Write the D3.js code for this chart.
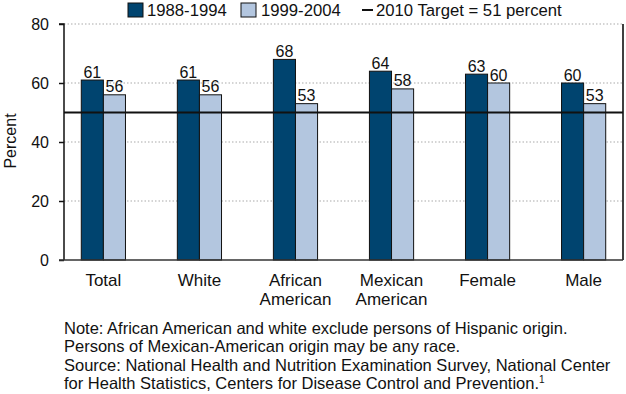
<!DOCTYPE html>
<html>
<head>
<meta charset="utf-8">
<script src="https://cdn.jsdelivr.net/npm/d3@7"></script>
<style>
  html, body { margin: 0; padding: 0; background: #fff; }
  svg { display: block; font-family: "Liberation Sans", Arial, sans-serif; }
</style>
</head>
<body>
<svg id="chart" width="626" height="394"></svg>
<script>
const categories = [["Total"], ["White"], ["African", "American"], ["Mexican", "American"], ["Female"], ["Male"]];
const series1988 = [61, 61, 68, 64, 63, 60];
const series1999 = [56, 56, 53, 58, 60, 53];
const seriesNames = ["1988-1994", "1999-2004"];
const targetValue = 50;
const targetLabel = "2010 Target = 51 percent";
const yTicks = [0, 20, 40, 60, 80];
const noteLines = [
  "Note: African American and white exclude persons of Hispanic origin.",
  "Persons of Mexican-American origin may be any race.",
  "Source: National Health and Nutrition Examination Survey, National Center",
  "for Health Statistics, Centers for Disease Control and Prevention."
];

(function () {
const colors = ["#00446F", "#B3C6DF"];
const svg = d3.select("#chart");
const pLeft = 64, pRight = 623, pTop = 24, pBottom = 260;

const keys = categories.map(c => c.join(" "));
const x = d3.scaleBand().domain(keys).range([pLeft, pRight]).paddingInner(0.54).paddingOuter(0.18);
const xs = d3.scaleBand().domain([0, 1]).range([0, x.bandwidth()]);
const y = d3.scaleLinear().domain([0, 80]).range([pBottom, pTop]);

// gridlines
svg.append("g").selectAll("line").data(yTicks.filter(t => t > 0)).join("line")
  .attr("x1", pLeft).attr("x2", pRight)
  .attr("y1", d => y(d)).attr("y2", d => y(d))
  .attr("stroke", "#aaa").attr("stroke-width", 1.2).attr("stroke-dasharray", "1.5,2");

// right border
svg.append("line").attr("x1", pRight).attr("x2", pRight).attr("y1", y(80)).attr("y2", y(0))
  .attr("stroke", "#000").attr("stroke-width", 1.5);

// bars
const data = [];
keys.forEach((k, i) => {
  data.push({k, s: 0, v: series1988[i]});
  data.push({k, s: 1, v: series1999[i]});
});
svg.append("g").selectAll("rect").data(data).join("rect")
  .attr("x", d => x(d.k) + xs(d.s))
  .attr("y", d => y(d.v))
  .attr("width", xs.bandwidth())
  .attr("height", d => y(0) - y(d.v))
  .attr("fill", d => colors[d.s])
  .attr("stroke", "#111").attr("stroke-width", 1);

// value labels
svg.append("g").selectAll("text").data(data).join("text")
  .attr("x", d => x(d.k) + xs(d.s) + xs.bandwidth() / 2)
  .attr("y", d => y(d.v) - 2.5)
  .attr("text-anchor", "middle")
  .attr("font-size", 16)
  .attr("fill", "#111")
  .text(d => d.v);

// target line
svg.append("line").attr("x1", pLeft).attr("x2", pRight)
  .attr("y1", y(targetValue)).attr("y2", y(targetValue))
  .attr("stroke", "#111").attr("stroke-width", 2);

// y axis
const yAxis = d3.axisLeft(y).tickValues(yTicks).tickSize(5).tickPadding(10);
const gy = svg.append("g").attr("transform", `translate(${pLeft},0)`).call(yAxis);
gy.select(".domain").attr("stroke", "#111").attr("stroke-width", 1.5).attr("d", `M-5,${pTop}H0V${pBottom}`);
gy.selectAll(".tick line").attr("stroke", "#111").attr("stroke-width", 1.5);
gy.selectAll(".tick text").attr("font-size", 16).attr("fill", "#111")
  .attr("font-family", "Liberation Sans, Arial, sans-serif");

// x axis baseline
svg.append("line").attr("x1", pLeft - 5).attr("x2", pRight).attr("y1", pBottom).attr("y2", pBottom)
  .attr("stroke", "#333").attr("stroke-width", 1.5);

// category labels
const gx = svg.append("g");
categories.forEach((c, i) => {
  c.forEach((line, j) => {
    gx.append("text")
      .attr("x", x(keys[i]) + x.bandwidth() / 2)
      .attr("y", 286 + j * 19)
      .attr("text-anchor", "middle")
      .attr("font-size", 17).attr("fill", "#111")
      .text(line);
  });
});

// y title
svg.append("text")
  .attr("transform", `translate(15.5,141) rotate(-90)`)
  .attr("text-anchor", "middle")
  .attr("font-size", 16).attr("fill", "#111")
  .text("Percent");

// legend
const lg = svg.append("g");
lg.append("rect").attr("x", 128).attr("y", 3).attr("width", 15).attr("height", 14)
  .attr("fill", colors[0]).attr("stroke", "#111");
lg.append("text").attr("x", 147).attr("y", 15.5).attr("font-size", 16.7).attr("fill", "#111").text(seriesNames[0]);
lg.append("rect").attr("x", 241).attr("y", 3).attr("width", 15).attr("height", 14)
  .attr("fill", colors[1]).attr("stroke", "#111");
lg.append("text").attr("x", 261).attr("y", 15.5).attr("font-size", 16.7).attr("fill", "#111").text(seriesNames[1]);
lg.append("line").attr("x1", 362).attr("x2", 373).attr("y1", 10).attr("y2", 10)
  .attr("stroke", "#111").attr("stroke-width", 2);
lg.append("text").attr("x", 376).attr("y", 15.5).attr("font-size", 16.7).attr("fill", "#111").text(targetLabel);

// notes
const nt = svg.append("g");
noteLines.forEach((line, i) => {
  const t = nt.append("text").attr("x", 64).attr("y", 334 + i * 18.4)
    .attr("font-size", 16.5).attr("fill", "#111").text(line);
  if (i === noteLines.length - 1) {
    t.append("tspan").attr("dy", -6).attr("font-size", 10).text("1");
  }
});
})();
</script>
</body>
</html>
